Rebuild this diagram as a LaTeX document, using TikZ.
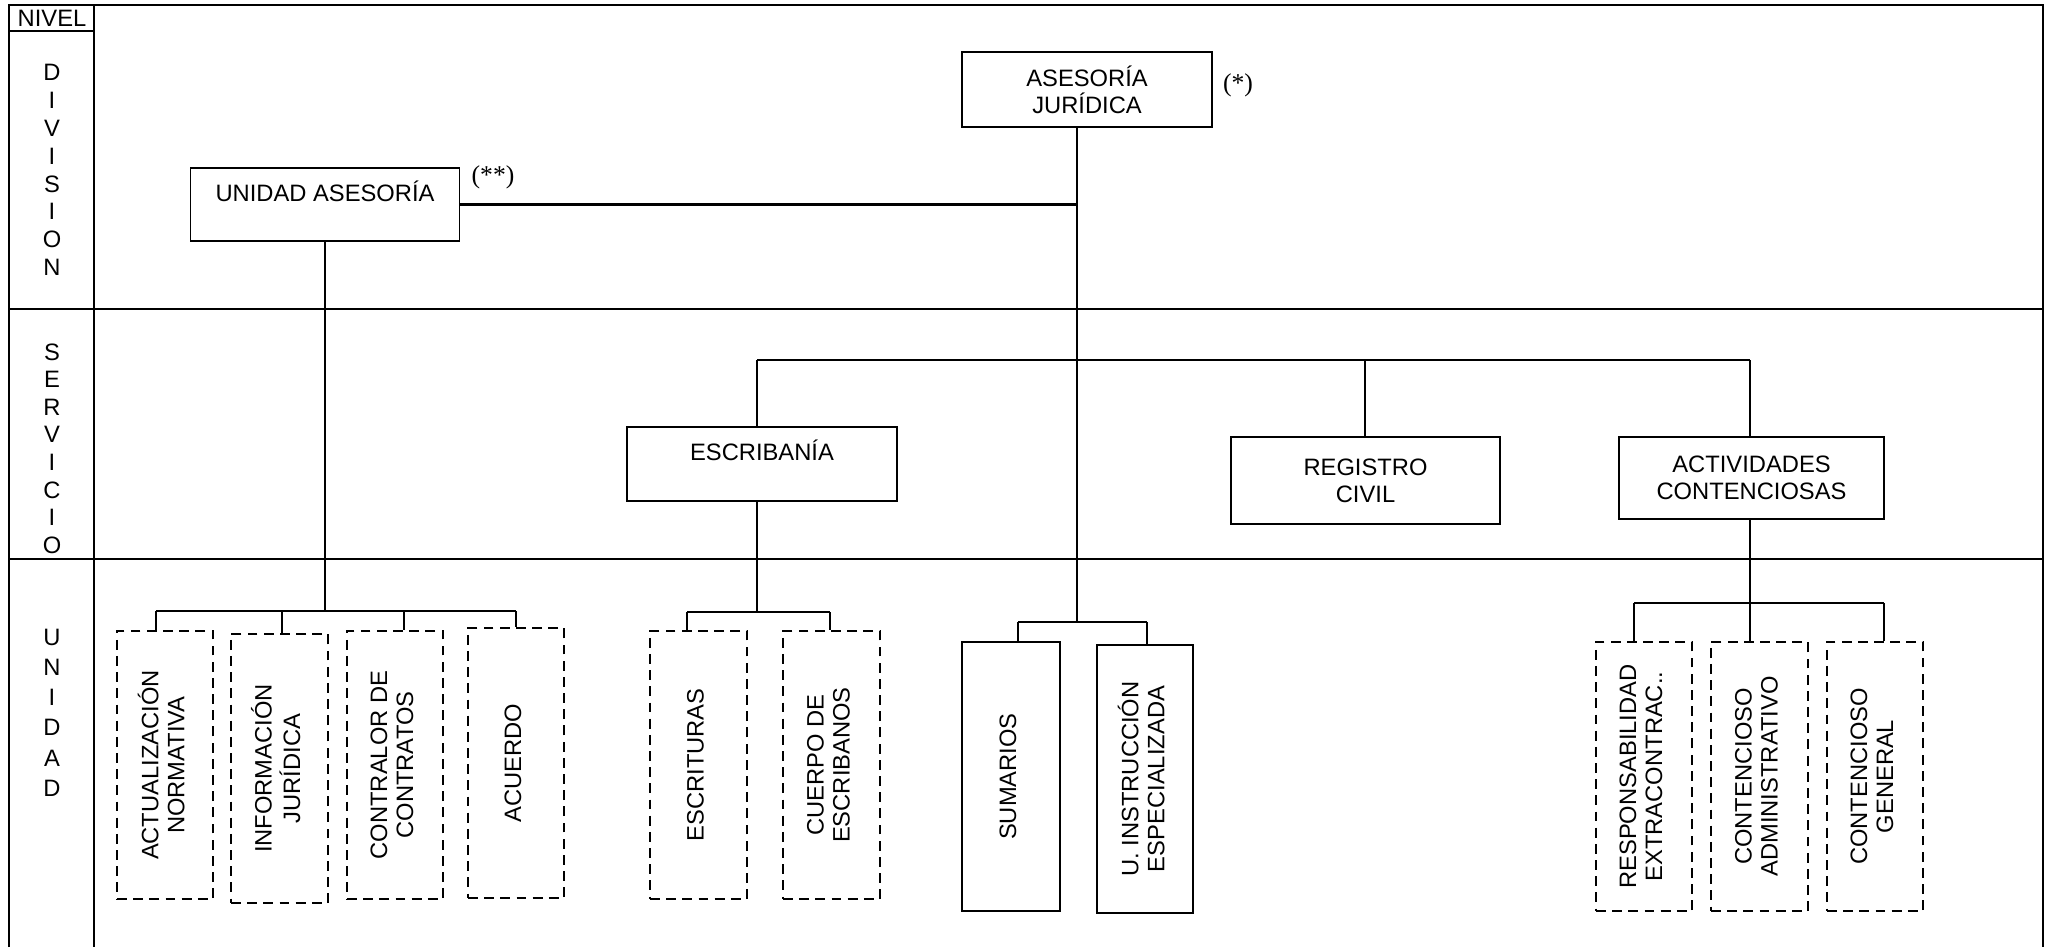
\documentclass[tikz,border=0pt]{standalone}
\usepackage{fontspec}
\usepackage{graphicx}
\setmainfont{Liberation Sans}
\newfontfamily\notefont{Liberation Serif}
\newcommand{\vlabel}[1]{\rotatebox{90}{\fontsize{6.75}{7.4}\selectfont\begin{tabular}{@{}c@{}}#1\end{tabular}}}

\begin{document}
\begin{tikzpicture}[x=0.01cm, y=-0.01cm,
  font=\fontsize{6.75}{7.7}\selectfont,
  level/.style ={align=center, inner sep=0pt},
  office/.style ={draw, line width=0.5pt, align=center, inner sep=0pt},
  unit/.style ={draw, line width=0.6pt, dash pattern=on 2.8pt off 1.8pt, inner sep=0pt, minimum width=0.96cm, minimum height=2.68cm},
  solidunit/.style ={draw, line width=0.75pt, inner sep=0pt, minimum width=0.97cm, minimum height=2.69cm},
  link/.style ={line width=0.6pt},
  grid/.style ={line width=0.55pt},
  note/.style ={font=\notefont\fontsize{7.3}{8}\selectfont}]
 \useasboundingbox (0,0) rectangle (2046,947);
 % frame
 \draw[grid] (9,947) -- (9,5) -- (2043,5) -- (2043,947);
 \draw[grid] (94,5) -- (94,947);
 \draw[grid] (9,31) -- (94,31);
 \draw[grid] (9,309) -- (2043,309);
 \draw[grid] (9,559) -- (2043,559);
 \node[level] (nivel) at (52,18) {NIVEL};
 \node[level, font=\fontsize{6.75}{7.9}\selectfont] (division) at (52,170) {D\\I\\V\\I\\S\\I\\O\\N};
 \node[level, font=\fontsize{6.75}{7.85}\selectfont] (servicio) at (52,448.5) {S\\E\\R\\V\\I\\C\\I\\O};
 \node[level, font=\fontsize{6.75}{8.6}\selectfont] (unidad) at (52,712.5) {U\\N\\I\\D\\A\\D};
 % division
 \node[office, minimum width=2.5cm, minimum height=0.75cm] (aj) at (1087,89.5) {ASESORÍA\\JURÍDICA};
 \node[note] (star1) at (1238,85) {(*)};
 \node[office, minimum width=2.69cm, minimum height=0.73cm] (ua) at (325,204.5) {UNIDAD ASESORÍA\\\mbox{}};
 \node[note] (star2) at (493,177) {(**)};
 % servicio
 \node[office, minimum width=2.7cm, minimum height=0.74cm] (esc) at (762,464) {ESCRIBANÍA\\\mbox{}};
 \node[office, minimum width=2.69cm, minimum height=0.87cm] (rc) at (1365.5,480.5) {REGISTRO\\CIVIL};
 \node[office, minimum width=2.65cm, minimum height=0.82cm] (ac) at (1751.5,478) {ACTIVIDADES\\CONTENCIOSAS};
 % unidad
 \node[unit] (an) at (165,765) {\vlabel{ACTUALIZACIÓN\\NORMATIVA}};
 \node[unit, minimum width=0.97cm, minimum height=2.69cm] (ij) at (279.5,768.5) {\vlabel{INFORMACIÓN\\JURÍDICA}};
 \node[unit] (cc) at (395,765) {\vlabel{CONTRALOR DE\\CONTRATOS}};
 \node[unit, minimum height=2.7cm] (acu) at (516,763) {\vlabel{ACUERDO}};
 \node[unit, minimum width=0.97cm] (escr) at (698.5,765) {\vlabel{ESCRITURAS}};
 \node[unit, minimum width=0.97cm] (ceb) at (831.5,765) {\vlabel{CUERPO DE\\ESCRIBANOS}};
 \node[solidunit, minimum width=0.98cm] (sum) at (1011,776.5) {\vlabel{SUMARIOS}};
 \node[solidunit, minimum width=0.96cm, minimum height=2.68cm] (uie) at (1145,779) {\vlabel{U. INSTRUCCIÓN\\ESPECIALIZADA}};
 \node[unit, minimum height=2.69cm] (rex) at (1644,776.5) {\vlabel{RESPONSABILIDAD\\EXTRACONTRAC..}};
 \node[unit, minimum width=0.97cm, minimum height=2.69cm] (cad) at (1759.5,776.5) {\vlabel{CONTENCIOSO\\ADMINISTRATIVO}};
 \node[unit, minimum height=2.69cm] (cge) at (1875,776.5) {\vlabel{CONTENCIOSO\\GENERAL}};
 % bus points
 \coordinate (tr) at (1077,622);
 \coordinate (s1) at (757,360);
 \coordinate (s2) at (1365,360);
 \coordinate (s3) at (1750,360);
 \coordinate (a1) at (156,611);
 \coordinate (a2) at (282,611);
 \coordinate (a3) at (404,611);
 \coordinate (a4) at (516,611);
 \coordinate (e1) at (687,612);
 \coordinate (e2) at (830,612);
 \coordinate (m1) at (1018,622);
 \coordinate (m2) at (1147,622);
 \coordinate (c1) at (1634,603);
 \coordinate (c2) at (1750,603);
 \coordinate (c3) at (1884,603);
 % connectors
 \draw[link] (tr |- aj.south) -- (tr);
 \draw[link] (ua.east) -- (ua.east -| tr);
 \draw[link] (s1) -- (s3);
 \draw[link] (s1) -- (s1 |- esc.north);
 \draw[link] (s2) -- (s2 |- rc.north);
 \draw[link] (s3) -- (s3 |- ac.north);
 \draw[link] (ua.south) -- (ua.south |- a1);
 \draw[link] (a1) -- (a4);
 \foreach \c/\n in {a1/an, a2/ij, a3/cc, a4/acu}
   \draw[link] (\c) -- (\c |- \n.north);
 \draw[link] (s1 |- esc.south) -- (s1 |- e1);
 \draw[link] (e1) -- (e2);
 \foreach \c/\n in {e1/escr, e2/ceb}
   \draw[link] (\c) -- (\c |- \n.north);
 \draw[link] (m1) -- (m2);
 \foreach \c/\n in {m1/sum, m2/uie}
   \draw[link] (\c) -- (\c |- \n.north);
 \draw[link] (c2 |- ac.south) -- (c2);
 \draw[link] (c1) -- (c3);
 \foreach \c/\n in {c1/rex, c2/cad, c3/cge}
   \draw[link] (\c) -- (\c |- \n.north);
\end{tikzpicture}
\end{document}
